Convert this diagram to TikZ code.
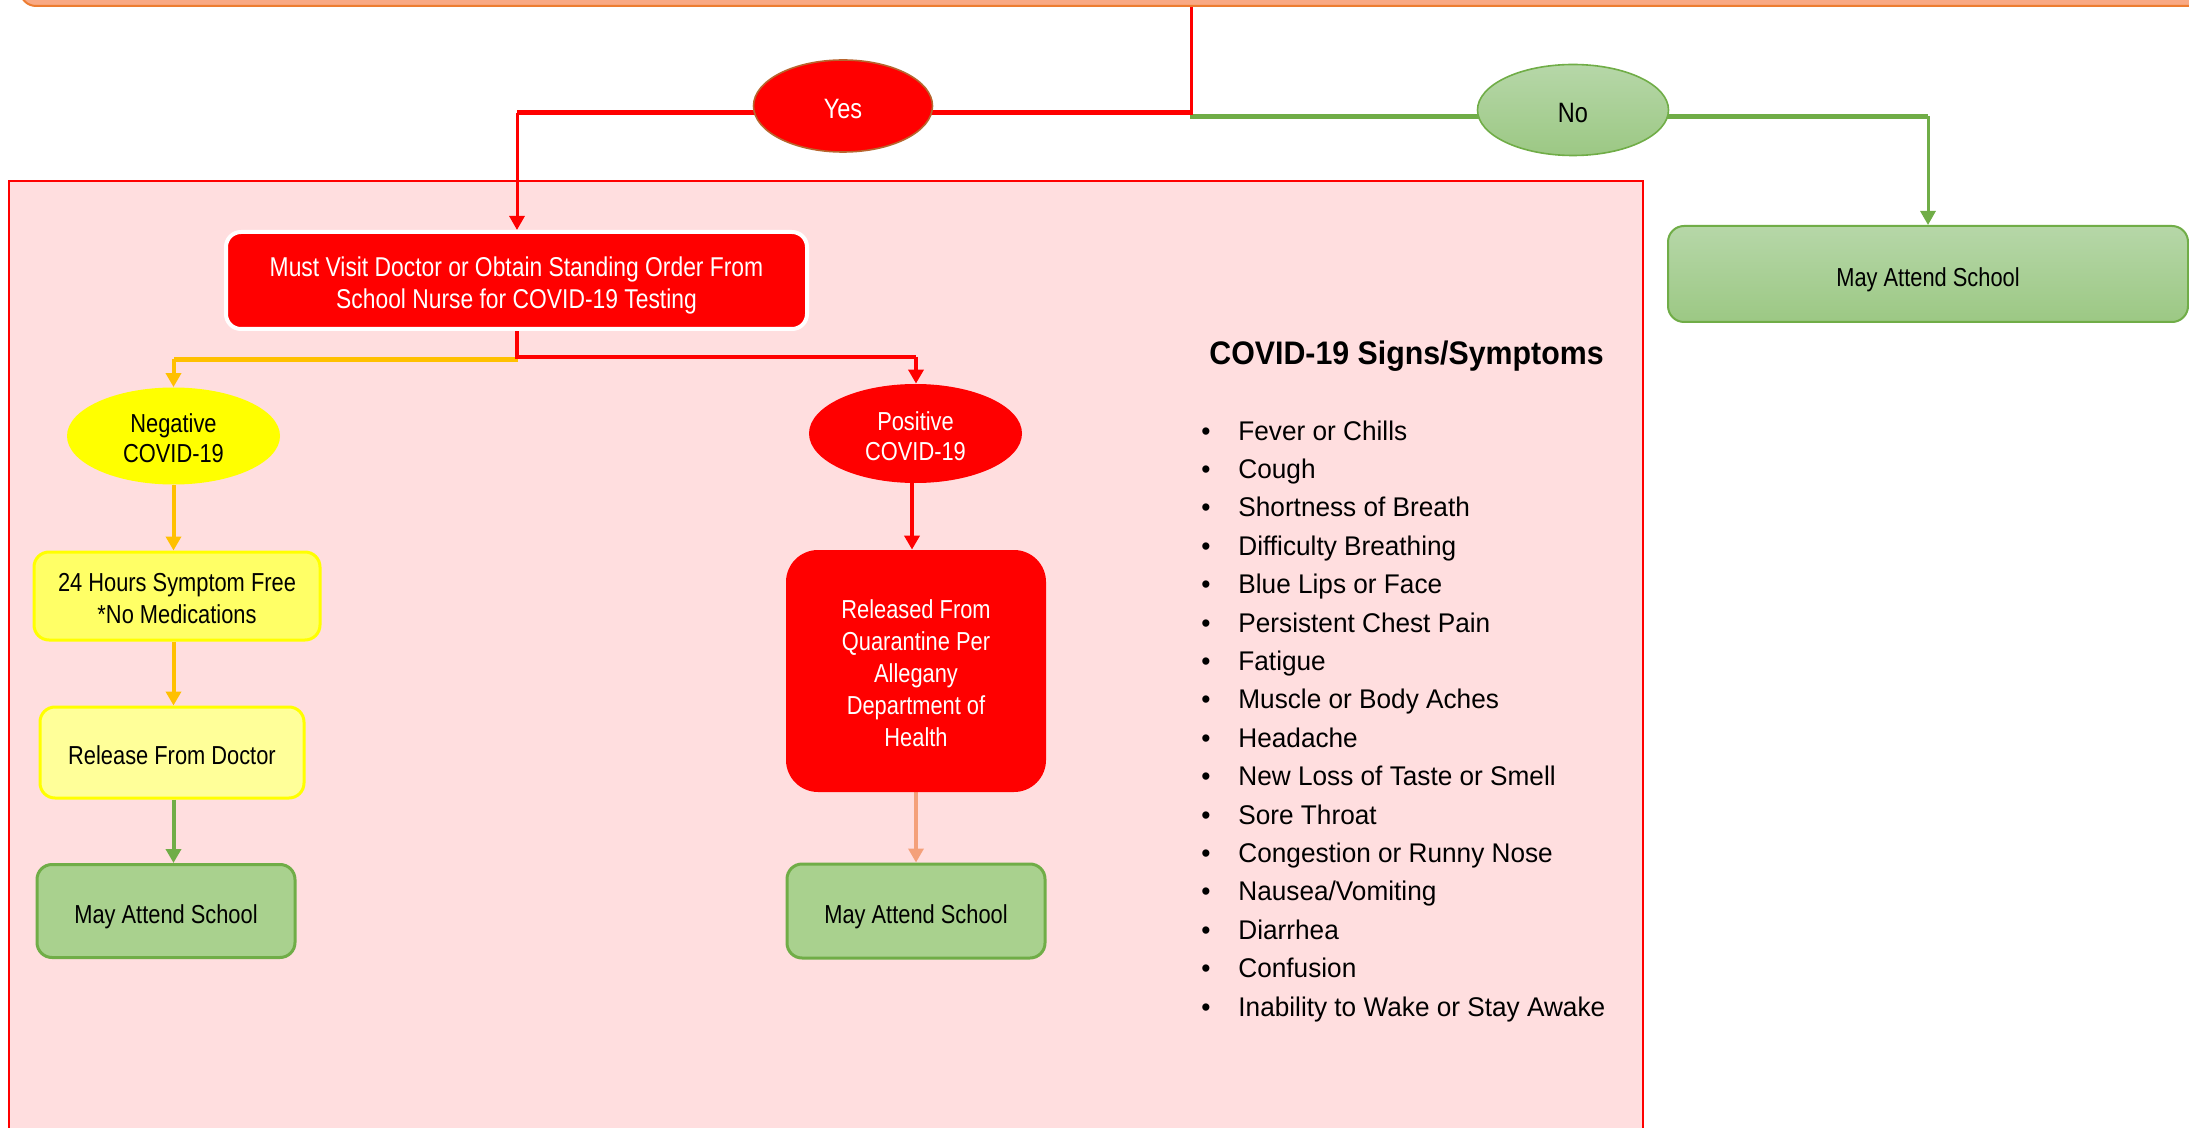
\documentclass[tikz,border=0pt]{standalone}
\usepackage{fontspec}
\setmainfont{Liberation Sans}
\newfontfamily\nfont{Liberation Sans}[FakeStretch=0.84]
\newfontfamily\lfont{Liberation Sans}[FakeStretch=0.97]
\newfontfamily\tfont{Liberation Sans}[FakeStretch=0.93]
\usetikzlibrary{shapes.geometric,arrows.meta,calc}
\pgfdeclarelayer{bg}
\pgfdeclarelayer{wires}
\pgfsetlayers{bg,wires,main}
\newcommand\topstrut{\rule{0pt}{\dimexpr0.905em+3pt\relax}}
\newcommand\botstrut{\rule[-0.212em]{0pt}{0pt}}
\newcommand\fl{\rule{0pt}{\dimexpr0.72em+5pt\relax}}
\definecolor{cred}{HTML}{FF0000}
\definecolor{pinkbg}{HTML}{FFDEDF}
\definecolor{salmonfill}{HTML}{F9A984}
\definecolor{orgline}{HTML}{ED7D31}
\definecolor{gold}{HTML}{FFC000}
\definecolor{ygreen}{HTML}{70AD47}
\definecolor{lgreen}{HTML}{A9D18E}
\definecolor{gtop}{HTML}{B6D7A8}
\definecolor{gbot}{HTML}{9CC884}
\definecolor{yel}{HTML}{FFFF00}
\definecolor{lyel}{HTML}{FFFF66}
\definecolor{llyel}{HTML}{FFFF99}
\definecolor{arrsalmon}{HTML}{F4A07A}
\definecolor{yesedge}{HTML}{B8652E}
\tikzset{
  box/.style={rectangle, rounded corners=7.5pt, inner sep=0pt, align=center,
    font=\nfont\fontsize{13}{15.8}\selectfont,
    execute at begin node=\topstrut, execute at end node=\botstrut},
  oval/.style={ellipse, inner sep=0pt, align=center,
    font=\nfont\fontsize{13}{15}\selectfont,
    execute at begin node=\topstrut, execute at end node=\botstrut},
  tip/.style={-{Triangle[width=7.5pt,length=7pt]}},
  sym/.style={inner sep=0pt, font=\lfont\fontsize{13.5}{16}\selectfont},
  thinw/.style={line width=1.5pt},
  thickw/.style={line width=2.5pt},
  midw/.style={line width=2pt},
  attend/.style={box, fill=lgreen, draw=ygreen, line width=1.5pt,
    minimum width=129pt, minimum height=46.5pt}
}
\begin{document}
\begin{tikzpicture}[x=0.5pt,y=-0.5pt]
\useasboundingbox (0,0) rectangle (2189,1128);

% ---- nodes ----
\node[oval, fill=cred, draw=yesedge, line width=0.8pt, text=white,
  minimum width=89.5pt, minimum height=46pt,
  font=\nfont\fontsize{14}{16}\selectfont] (yes) at (843,106) {Yes};
\node[oval, top color=gtop, bottom color=gbot, draw=ygreen, line width=0.8pt,
  minimum width=95.5pt, minimum height=45.5pt,
  font=\nfont\fontsize{14}{16}\selectfont] (no) at (1573,110) {No};

\node[box, fill=cred, draw=white, line width=2pt, text=white,
  minimum width=290.5pt, minimum height=48.5pt,
  font=\nfont\fontsize{13.6}{16}\selectfont] (must) at (516.5,280.5)
  {\fl Must Visit Doctor or Obtain Standing Order From\\School Nurse for COVID-19 Testing};

\node[box, top color=gtop, bottom color=gbot, draw=ygreen, line width=1pt,
  minimum width=260pt, minimum height=48pt, rounded corners=8pt] (mayR) at (1928,274) {May Attend School};

\node[oval, fill=yel, minimum width=106.5pt, minimum height=48.5pt] (neg) at (173.5,436) {\fl Negative\\COVID-19};
\node[oval, fill=cred, text=white, minimum width=106.5pt, minimum height=49.5pt] (pos) at (915.5,433.5) {\fl Positive\\COVID-19};

\node[box, fill=lyel, draw=yel, line width=1.5pt, minimum width=143pt, minimum height=44pt] (h24) at (177,596)
  {\fl 24 Hours Symptom Free\\*No Medications};
\node[box, fill=llyel, draw=yel, line width=1.5pt, minimum width=132pt, minimum height=45.5pt] (rel) at (172,752.5)
  {Release From Doctor};
\node[attend] (mayL) at (166,911) {May Attend School};

\node[box, fill=cred, text=white, rounded corners=16pt, minimum width=130pt, minimum height=121pt,
  font=\nfont\fontsize{13}{16}\selectfont] (quar) at (916,671)
  {\fl Released From\\Quarantine Per\\Allegany\\Department of\\Health};
\node[attend, minimum height=47pt] (mayM) at (916,911) {May Attend School};

\node[anchor=base west, inner sep=0pt, font=\tfont\bfseries\fontsize{16.3}{19}\selectfont] (title) at (1209,365)
  {COVID-19 Signs/Symptoms};
\foreach [count=\i] \t in {Fever or Chills, Cough, Shortness of Breath, Difficulty Breathing,
  Blue Lips or Face, Persistent Chest Pain, Fatigue, Muscle or Body Aches, Headache,
  New Loss of Taste or Smell, Sore Throat, Congestion or Runny Nose, Nausea/Vomiting,
  Diarrhea, Confusion, Inability to Wake or Stay Awake} {
  \node[sym, anchor=base west] (s\i) at (1238,{440+38.4*(\i-1)}) {\t};
  \node[sym, anchor=base] (b\i) at (1206,{440+38.4*(\i-1)}) {•};
}

% ---- background panels ----
\begin{pgfonlayer}{bg}
\begin{scope}
\clip (0,0) rectangle (2189,1128);
\fill[white] (0,0) rectangle (2189,1128);
\node[draw=orgline, fill=salmonfill, line width=1pt, rounded corners=8pt,
  minimum width=1120pt, minimum height=50pt, inner sep=0pt] (topbox) at (1140,-44) {};
\draw[cred, line width=1pt, fill=pinkbg] (9,181) rectangle (1643,1220);
\end{scope}
\end{pgfonlayer}

% ---- connectors ----
\begin{pgfonlayer}{wires}
\coordinate (j1) at (1191,113);
\coordinate (j2) at (517,113);
\coordinate (g1) at (1190,116.5);
\coordinate (g2) at (1928,116.5);
\coordinate (k1) at (517,357);
\coordinate (k2) at (916,357);
\coordinate (o1) at (518,359.5);
\coordinate (o2) at (173.5,359.5);
\coordinate (pc) at (912,483);

\draw[cred, thinw] (topbox.south -| j1) -- (j1);
\draw[ygreen, thickw] (g1) -- (g2);
\draw[cred, thickw] ([xshift=0.75pt]j1) -- (j2);
\draw[cred, thinw, tip] (j2) -- (j2 |- must.north);
\draw[ygreen, thinw, tip] (g2) -- (g2 |- mayR.north);

\draw[gold, thickw] (o1) -- (o2);
\draw[cred, midw] (must.south -| k1) -- (k1) -- (k2);
\draw[cred, midw, tip] (k2) -- (k2 |- pos.north);
\draw[gold, midw, tip] (o2) -- (o2 |- neg.north);

\draw[gold, midw, tip] (neg.south) -- (neg.south |- h24.north);
\draw[gold, midw, tip] (h24.south -| neg.south) -- (neg.south |- rel.north);
\draw[ygreen, midw, tip] (rel.south -| neg.south) -- (neg.south |- mayL.north);
\draw[cred, midw, tip] (pos.south -| pc) -- (pc |- quar.north);
\draw[arrsalmon, midw, tip] (quar.south) -- (mayM.north);
\end{pgfonlayer}
\end{tikzpicture}
\end{document}
